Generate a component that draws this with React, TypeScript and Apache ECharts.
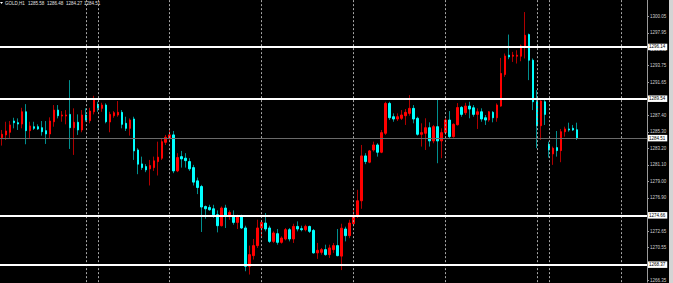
import React, { useEffect, useRef } from "react";
import * as echarts from "echarts";

const symbolName = "GOLD,H1";

const opens = [
  1284.57, 1284.92, 1285.26, 1286.69, 1286.48, 1286.31, 1287.87, 1285.46, 1285.97, 1285.97,
  1285.84, 1285.46, 1285.04, 1286.60, 1288.09, 1287.33, 1287.33, 1287.54, 1285.84, 1286.53,
  1285.55, 1287.46, 1286.73, 1287.87, 1288.82, 1288.31, 1288.73, 1286.57, 1287.37, 1287.46,
  1287.80, 1286.40, 1285.76, 1286.95, 1283.00, 1281.22, 1280.88, 1280.59, 1280.75, 1281.52,
  1281.95, 1283.98, 1284.49, 1284.92, 1280.33, 1282.15, 1281.95, 1281.52, 1280.75, 1279.06,
  1278.34, 1275.79, 1275.67, 1275.50, 1274.74, 1273.34, 1275.59, 1274.61, 1274.61, 1273.76,
  1274.52, 1273.05, 1268.16, 1269.52, 1270.80, 1273.05, 1273.68, 1273.05, 1271.34, 1272.32,
  1271.22, 1271.65, 1272.83, 1271.65, 1273.25, 1272.96, 1272.83, 1273.25, 1272.74, 1269.87,
  1269.94, 1270.29, 1269.65, 1270.29, 1270.80, 1269.46, 1272.92, 1272.07, 1273.59, 1274.65,
  1276.52, 1282.24, 1281.44, 1283.00, 1283.64, 1282.71, 1285.13, 1288.94, 1287.24, 1286.95,
  1287.04, 1287.37, 1287.67, 1288.31, 1287.04, 1285.00, 1285.13, 1285.84, 1284.15, 1285.97,
  1284.15, 1285.21, 1286.82, 1284.70, 1286.22, 1288.43, 1287.75, 1288.60, 1288.38, 1287.54,
  1287.87, 1287.11, 1286.82, 1287.80, 1287.11, 1288.60, 1292.63, 1295.09, 1294.96, 1294.96,
  1294.96, 1296.14, 1297.72, 1294.45, 1289.15, 1286.09, 1289.15, 1283.73, 1282.50, 1283.30,
  1282.92, 1285.33, 1285.68, 1285.76, 1285.58,
];

const closes = [
  1285.00, 1285.42, 1286.19, 1286.48, 1286.31, 1287.87, 1285.46, 1286.06, 1285.76, 1285.68,
  1285.33, 1285.04, 1286.69, 1288.09, 1287.37, 1287.46, 1287.46, 1285.84, 1286.53, 1285.55,
  1287.46, 1286.82, 1287.96, 1289.49, 1288.38, 1288.73, 1286.60, 1287.54, 1287.75, 1287.80,
  1286.27, 1285.76, 1286.82, 1282.88, 1281.19, 1280.75, 1280.46, 1281.01, 1281.61, 1282.08,
  1284.06, 1284.62, 1284.92, 1280.33, 1282.03, 1281.86, 1281.64, 1280.59, 1278.90, 1278.21,
  1275.72, 1275.50, 1275.37, 1274.74, 1273.34, 1275.59, 1274.61, 1275.03, 1273.76, 1274.52,
  1273.05, 1268.16, 1269.65, 1270.80, 1273.05, 1273.76, 1272.92, 1271.34, 1272.41, 1271.22,
  1271.77, 1272.83, 1271.65, 1273.25, 1272.92, 1272.83, 1273.25, 1272.62, 1269.87, 1270.20,
  1270.29, 1269.65, 1270.50, 1270.80, 1269.52, 1273.02, 1272.07, 1273.68, 1274.61, 1276.52,
  1282.24, 1281.52, 1282.88, 1283.64, 1282.71, 1285.21, 1288.94, 1287.11, 1286.95, 1287.24,
  1287.46, 1287.80, 1288.31, 1286.95, 1285.00, 1285.21, 1285.84, 1284.15, 1285.97, 1284.15,
  1285.21, 1286.82, 1284.70, 1286.27, 1288.41, 1287.54, 1288.60, 1288.22, 1287.54, 1287.87,
  1286.95, 1286.82, 1287.87, 1287.11, 1288.73, 1292.76, 1294.99, 1294.87, 1295.09, 1295.09,
  1296.27, 1297.63, 1294.45, 1289.15, 1286.09, 1289.24, 1287.54, 1283.00, 1283.22, 1282.92,
  1285.33, 1285.68, 1285.55, 1285.55, 1284.51,
];

const highs = [
  1285.55, 1286.60, 1286.69, 1287.11, 1287.03, 1288.38, 1288.85, 1286.60, 1286.60, 1286.27,
  1286.69, 1286.69, 1287.16, 1288.73, 1288.73, 1287.96, 1288.09, 1291.91, 1288.31, 1287.54,
  1288.09, 1288.31, 1288.38, 1289.91, 1289.15, 1289.02, 1288.94, 1287.87, 1287.96, 1289.24,
  1288.09, 1287.24, 1287.03, 1287.24, 1283.22, 1282.15, 1281.19, 1281.73, 1282.15, 1284.06,
  1284.49, 1284.92, 1285.55, 1285.42, 1282.59, 1282.88, 1282.59, 1281.95, 1281.10, 1279.48,
  1278.55, 1275.92, 1276.01, 1276.01, 1275.29, 1275.79, 1276.01, 1275.29, 1275.29, 1274.74,
  1274.74, 1273.34, 1270.80, 1271.65, 1274.10, 1274.10, 1274.95, 1273.34, 1272.62, 1272.92,
  1271.98, 1273.05, 1273.05, 1273.59, 1273.89, 1273.34, 1273.47, 1273.34, 1272.92, 1271.14,
  1270.50, 1270.92, 1270.92, 1271.14, 1272.92, 1273.59, 1273.21, 1274.10, 1275.59, 1277.92,
  1283.64, 1282.59, 1283.00, 1284.06, 1283.86, 1285.55, 1289.15, 1289.15, 1287.67, 1287.67,
  1288.09, 1288.22, 1290.00, 1288.73, 1287.24, 1286.40, 1287.04, 1286.53, 1286.19, 1289.58,
  1285.76, 1287.04, 1287.96, 1286.40, 1288.98, 1288.60, 1289.02, 1289.15, 1288.73, 1288.31,
  1288.31, 1287.46, 1287.96, 1287.96, 1288.94, 1294.74, 1295.30, 1297.72, 1295.51, 1295.72,
  1296.45, 1300.59, 1297.85, 1294.67, 1290.63, 1289.36, 1289.36, 1284.06, 1283.43, 1285.42,
  1285.68, 1285.97, 1286.48, 1286.19, 1286.48,
];

const lows = [
  1283.56, 1284.28, 1284.53, 1285.76, 1285.55, 1285.76, 1283.73, 1284.53, 1285.55, 1285.55,
  1284.83, 1283.77, 1284.50, 1285.97, 1287.03, 1286.60, 1286.27, 1283.13, 1282.37, 1284.92,
  1285.26, 1286.60, 1286.40, 1287.54, 1287.87, 1287.87, 1286.40, 1285.26, 1287.11, 1287.24,
  1285.76, 1285.42, 1284.83, 1281.73, 1279.91, 1280.46, 1280.17, 1278.47, 1280.33, 1279.74,
  1281.73, 1283.64, 1284.28, 1280.04, 1280.17, 1280.75, 1280.75, 1280.33, 1278.47, 1277.37,
  1272.54, 1274.23, 1275.25, 1274.36, 1272.49, 1273.25, 1273.05, 1274.10, 1273.47, 1272.92,
  1272.92, 1267.53, 1267.11, 1269.02, 1270.50, 1271.98, 1272.62, 1271.14, 1271.14, 1270.92,
  1271.05, 1271.47, 1271.34, 1271.14, 1272.62, 1272.62, 1272.62, 1272.41, 1269.78, 1269.11,
  1269.65, 1269.52, 1269.23, 1269.87, 1269.44, 1267.68, 1271.34, 1271.75, 1273.25, 1274.32,
  1275.50, 1281.19, 1281.31, 1282.79, 1282.15, 1282.59, 1284.92, 1286.82, 1286.60, 1286.69,
  1286.82, 1286.19, 1287.37, 1286.40, 1284.83, 1283.43, 1283.00, 1283.43, 1283.86, 1281.31,
  1281.95, 1284.92, 1284.50, 1284.57, 1286.12, 1287.24, 1287.46, 1287.04, 1287.24, 1285.68,
  1286.60, 1286.19, 1286.60, 1286.53, 1286.60, 1288.51, 1292.33, 1294.58, 1294.23, 1294.03,
  1294.32, 1294.67, 1291.91, 1288.09, 1283.22, 1284.28, 1286.19, 1282.03, 1281.10, 1282.15,
  1281.44, 1284.70, 1285.33, 1285.42, 1284.27,
];

const levelLines = [1296.14, 1289.54, 1274.66, 1268.37];
const currentPrice = 1284.51;
const separatorIndexes = [21, 24, 42, 65, 88, 111, 134, 137, 155];
const tickValues = [
  1266.35, 1268.45, 1270.55, 1272.65, 1274.75, 1276.9, 1279.0, 1281.1, 1283.2,
  1285.3, 1287.4, 1289.5, 1291.65, 1293.75, 1295.85, 1297.95, 1300.05,
];
const priceMin = 1266.14;
const priceMax = 1302.13;
const slotCount = 162;

const FONT = "Liberation Sans, Arial, sans-serif";
const fmt = (v: number) => Number(v).toFixed(2);

export default function App() {
  const ref = useRef<HTMLDivElement>(null);

  useEffect(() => {
    if (!ref.current) return;
    const chart = echarts.init(ref.current, undefined, { renderer: "svg" });

    const categories = Array.from({ length: slotCount }, (_, i) => String(i));
    const wickData = opens.map((o, i) => [o, closes[i], lows[i], highs[i]]);
    const bodyData = opens.map((o, i) => [
      o,
      closes[i],
      Math.min(o, closes[i]),
      Math.max(o, closes[i]),
    ]);

    const last = opens.length - 1;
    const headerParts = [
      symbolName,
      fmt(opens[last]),
      fmt(highs[last]),
      fmt(lows[last]),
      fmt(closes[last]),
    ];
    const headerX = [5, 28, 47, 66, 84];

    const boxLabel = {
      show: true,
      position: "end",
      distance: 1,
      formatter: (p: any) => fmt(p.value),
      backgroundColor: "#ffffff",
      color: "#000000",
      fontSize: 4.5,
      fontFamily: FONT,
      padding: [1, 2, 0.5, 1],
    };

    chart.setOption({
      animation: false,
      backgroundColor: "#000000",
      grid: { left: 0, right: 26, top: 0, bottom: 0, containLabel: false },
      xAxis: {
        type: "category",
        data: categories,
        boundaryGap: true,
        axisLine: { show: false },
        axisTick: { show: false },
        axisLabel: { show: false },
        splitLine: { show: false },
      },
      yAxis: {
        type: "value",
        position: "right",
        min: priceMin,
        max: priceMax,
        axisLine: { show: true, lineStyle: { color: "#9a9a9a", width: 1 } },
        axisTick: {
          show: true,
          length: 2,
          customValues: tickValues,
          lineStyle: { color: "#9a9a9a" },
        },
        axisLabel: {
          show: true,
          customValues: tickValues,
          formatter: (v: number) => fmt(v),
          color: "#d0d0d0",
          fontSize: 4.5,
          fontFamily: FONT,
          margin: 3,
        },
        splitLine: { show: false },
      },
      graphic: [
        {
          type: "polygon",
          shape: { points: [[0, 2], [3, 2], [1.5, 4]] },
          style: { fill: "#ffffff" },
        },
        ...headerParts.map((t, i) => ({
          type: "text",
          x: headerX[i],
          y: 1,
          style: {
            text: t,
            fill: "#e0e0e0",
            fontSize: 4.5,
            fontFamily: FONT,
          },
        })),
        {
          type: "rect",
          shape: { x: 669, y: 0, width: 4, height: 283 },
          style: { fill: "#d4d4d4" },
        },
      ],
      series: [
        {
          type: "candlestick",
          name: "wicks",
          data: wickData,
          barWidth: 1,
          silent: true,
          itemStyle: {
            color: "#b00000",
            color0: "#008f8f",
            borderColor: "#b00000",
            borderColor0: "#008f8f",
            borderWidth: 1,
          },
          markLine: {
            silent: true,
            symbol: ["none", "none"],
            label: { show: false },
            lineStyle: { color: "#a8a8a8", width: 1, type: [2, 2] },
            data: separatorIndexes.map((i) => ({ xAxis: i })),
          },
        },
        {
          type: "candlestick",
          name: "bodies",
          data: bodyData,
          barWidth: 2,
          silent: true,
          itemStyle: {
            color: "#ff0000",
            color0: "#00ffff",
            borderColor: "#ff0000",
            borderColor0: "#00ffff",
            borderWidth: 1,
          },
          markLine: {
            silent: true,
            symbol: ["none", "none"],
            data: [
              {
                yAxis: currentPrice,
                lineStyle: { color: "#6a6a6a", width: 1, type: "solid" },
                label: boxLabel,
              },
              ...levelLines.map((v) => ({
                yAxis: v,
                lineStyle: { color: "#ffffff", width: 2, type: "solid" },
                label: boxLabel,
              })),
            ],
          },
        },
      ],
    });

    return () => chart.dispose();
  }, []);

  return (
    <div
      ref={ref}
      style={{
        position: "absolute",
        left: 0,
        top: 0,
        width: 673,
        height: 283,
        background: "#000",
      }}
    />
  );
}
